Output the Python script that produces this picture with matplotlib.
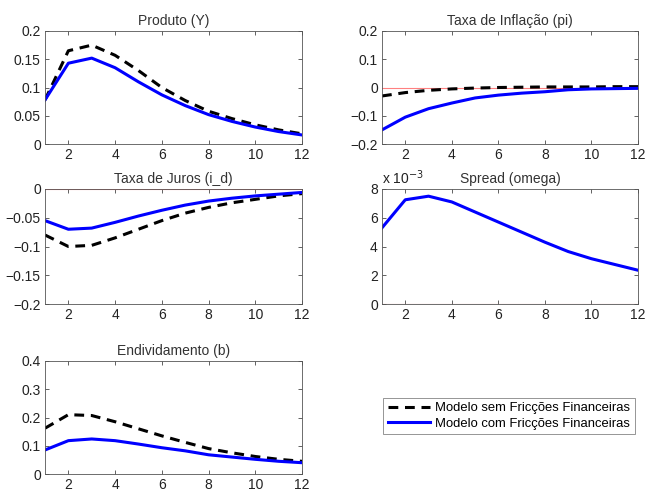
import matplotlib
matplotlib.use("Agg")
import matplotlib.pyplot as plt
from matplotlib.lines import Line2D
from matplotlib.ticker import FuncFormatter

plt.rcParams['font.family'] = ['Liberation Sans', 'DejaVu Sans']

periods = list(range(1, 13))

produto_sem = [0.078, 0.165, 0.175, 0.157, 0.130, 0.100, 0.077, 0.058, 0.045, 0.034, 0.025, 0.018]
produto_com = [0.078, 0.143, 0.152, 0.135, 0.110, 0.087, 0.068, 0.052, 0.040, 0.030, 0.022, 0.016]

inflacao_sem = [-0.030, -0.018, -0.010, -0.005, -0.002, 0.000, 0.001, 0.002, 0.002, 0.002, 0.003, 0.003]
inflacao_com = [-0.150, -0.105, -0.075, -0.055, -0.037, -0.027, -0.020, -0.015, -0.008, -0.005, -0.004, -0.003]

juros_sem = [-0.080, -0.100, -0.098, -0.085, -0.070, -0.055, -0.042, -0.032, -0.024, -0.018, -0.012, -0.008]
juros_com = [-0.055, -0.070, -0.068, -0.058, -0.047, -0.037, -0.028, -0.021, -0.016, -0.012, -0.009, -0.006]

spread_com = [5.3e-3, 7.25e-3, 7.5e-3, 7.1e-3, 6.4e-3, 5.7e-3, 5.0e-3, 4.3e-3, 3.65e-3, 3.15e-3, 2.75e-3, 2.35e-3]

divida_sem = [0.162, 0.210, 0.207, 0.185, 0.160, 0.135, 0.112, 0.090, 0.075, 0.062, 0.052, 0.045]
divida_com = [0.085, 0.118, 0.124, 0.118, 0.106, 0.093, 0.082, 0.068, 0.060, 0.052, 0.045, 0.040]

titles = ['Produto (Y)', 'Taxa de Inflação (pi)', 'Taxa de Juros (i_d)', 'Spread (omega)', 'Endividamento (b)']
legend_labels = ['Modelo sem Fricções Financeiras', 'Modelo com Fricções Financeiras']

W, H = 646, 491
fig = plt.figure(figsize=(W / 100, H / 100), dpi=100)

def ax_px(x0, y0, x1, y1):
    return fig.add_axes([x0 / W, 1 - y1 / H, (x1 - x0) / W, (y1 - y0) / H])

def fmt(v, pos):
    s = ('%g' % round(v, 6))
    if s == '-0':
        s = '0'
    return s.replace('-', '\u2212')

def style(ax, ylim, yticks, title):
    ax.set_xlim(1, 12)
    ax.set_xticks([2, 4, 6, 8, 10, 12])
    ax.set_ylim(*ylim)
    ax.set_yticks(yticks)
    ax.yaxis.set_major_formatter(FuncFormatter(fmt))
    ax.tick_params(direction='in', top=True, right=True, length=3, width=0.5,
                   labelsize=10, colors='#222222', pad=3)
    for s in ax.spines.values():
        s.set_linewidth(0.6)
        s.set_color('#555555')
    ax.set_title(title, fontsize=10, color='#333333', pad=4)

blk = dict(color='black', lw=2.2, ls=(0, (3.2, 2.2)))
blu = dict(color='#0000ff', lw=2.2)
red = dict(color='#ff8080', lw=0.8)

x0L, x1L = 45, 302
x0R, x1R = 382, 638
r1 = (31, 144)
r2 = (189, 304)
r3 = (361, 474)

ax1 = ax_px(x0L, r1[0], x1L, r1[1])
ax1.plot(periods, produto_sem, **blk)
ax1.plot(periods, produto_com, **blu)
style(ax1, (0, 0.2), [0, 0.05, 0.1, 0.15, 0.2], titles[0])

ax2 = ax_px(x0R, r1[0], x1R, r1[1])
ax2.axhline(0, **red)
ax2.plot(periods, inflacao_sem, **blk)
ax2.plot(periods, inflacao_com, **blu)
style(ax2, (-0.2, 0.2), [-0.2, -0.1, 0, 0.1, 0.2], titles[1])

ax3 = ax_px(x0L, r2[0], x1L, r2[1])
ax3.axhline(0, **red)
ax3.plot(periods, juros_sem, **blk)
ax3.plot(periods, juros_com, **blu)
style(ax3, (-0.2, 0), [-0.2, -0.15, -0.1, -0.05, 0], titles[2])

ax4 = ax_px(x0R, r2[0], x1R, r2[1])
ax4.axhline(0, **red)
ax4.plot(periods, [v * 1e3 for v in spread_com], **blu)
style(ax4, (0, 8), [0, 2, 4, 6, 8], titles[3])
ax4.text(0.0, 1.02, 'x 10$^{-3}$', transform=ax4.transAxes, fontsize=10,
         color='#222222', ha='left', va='bottom')

ax5 = ax_px(x0L, r3[0], x1L, r3[1])
ax5.plot(periods, divida_sem, **blk)
ax5.plot(periods, divida_com, **blu)
style(ax5, (0, 0.4), [0, 0.1, 0.2, 0.3, 0.4], titles[4])

handles = [Line2D([], [], **blk), Line2D([], [], **blu)]
leg = fig.legend(handles, legend_labels, loc='center',
                 bbox_to_anchor=(509 / W, 1 - 416 / H), fontsize=9.4,
                 frameon=True, fancybox=False, edgecolor='#666666',
                 handlelength=3.2, handletextpad=0.4, borderpad=0.35,
                 labelspacing=0.25, borderaxespad=0)
leg.get_frame().set_linewidth(0.6)

fig.savefig('out.png', dpi=100)
